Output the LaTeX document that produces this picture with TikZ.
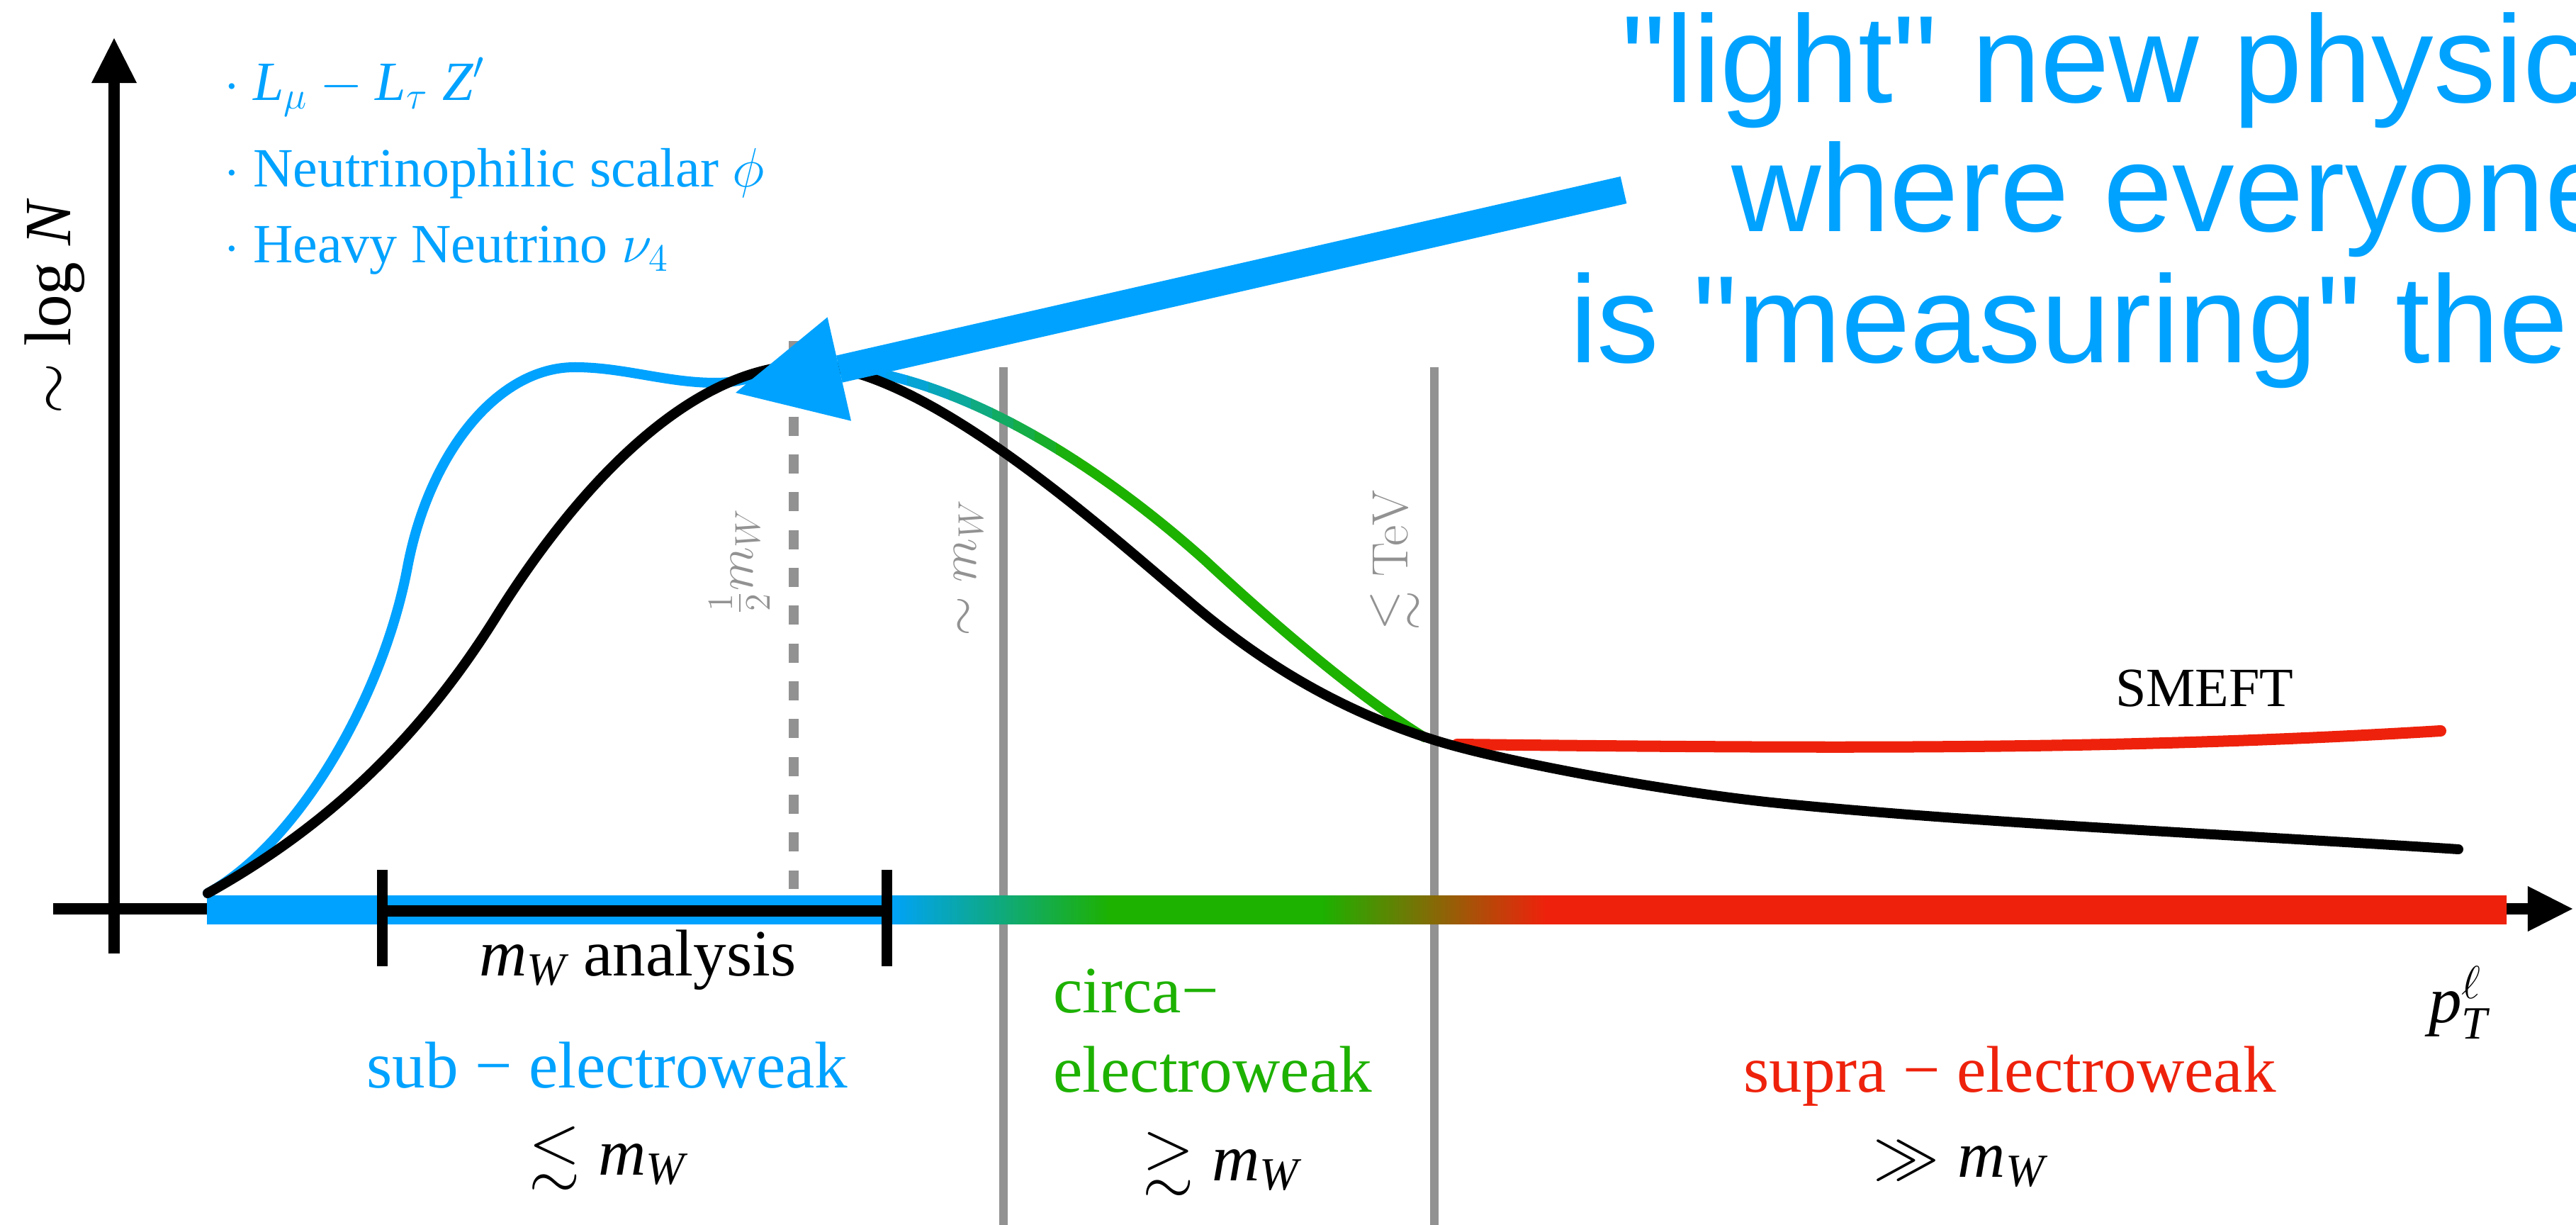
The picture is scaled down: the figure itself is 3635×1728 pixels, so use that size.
\RequirePackage{fix-cm}
\documentclass[tikz,border=0pt]{standalone}
\usepackage{amsmath,amssymb}
\usepackage[no-math]{fontspec}
\setmainfont{Liberation Serif}
\newfontfamily\helv{Liberation Sans}
\usetikzlibrary{arrows.meta}
\definecolor{cblue}{HTML}{00A2FF}
\definecolor{cgreen}{HTML}{1DB100}
\definecolor{cred}{HTML}{EE220C}
\definecolor{cgrey}{HTML}{929292}
\newcommand{\fA}{\fontsize{26.5}{30}\selectfont}
\newcommand{\fB}{\fontsize{22.2}{26}\selectfont}
\newcommand{\fC}{\fontsize{49.8}{56}\selectfont}
\newcommand{\fD}{\fontsize{20.5}{24}\selectfont}
\pgfdeclarehorizontalshading{barshade}{100bp}{color(0bp)=(cblue); color(39.75bp)=(cblue); color(44.65bp)=(cgreen); color(49.25bp)=(cgreen); color(54.1bp)=(cred); color(100bp)=(cred)}
\newcommand{\drawblue}[1]{\draw[curve, #1] (293,1260) .. controls (420,1190) and (540,985) .. (575,800) .. controls (605,641) and (701,518) .. (811,518) .. controls (880,518) and (940,540) .. (1010,540) .. controls (1060,540) and (1100,516) .. (1150,516) .. controls (1350,520) and (1560,665) .. (1700,790) .. controls (1800,883) and (1920,985) .. (2010,1040);}
\begin{document}
\begin{tikzpicture}[x=0.01cm, y=-0.01cm,
  every node/.style={inner sep=0pt, outer sep=0pt},
  curve/.style={line width=0.14cm, line cap=round, line join=round},
  axisline/.style={line width=0.16cm, -{Triangle[length=0.63cm, width=0.64cm, line width=0pt]}},
  greyline/.style={cgrey, line width=0.12cm},
  lab/.style={font=\fA},
  leg/.style={font=\fB, text=cblue, anchor=base west},
  big/.style={font=\fC\helv, text=cblue, anchor=base west},
  glab/.style={font=\fD, text=cgrey, rotate=90, anchor=base}]
\useasboundingbox (0,0) rectangle (3635,1728);
% axes
\coordinate (ybot) at (161,1345);
\coordinate (ytop) at (161,54);
\coordinate (xleft) at (75,1282);
\coordinate (xright) at (3630,1282);
\draw[axisline] (ybot) -- (ytop);
\draw[axisline] (xleft) -- (xright);
% grey region lines
\coordinate (g1t) at (1416,518); \coordinate (g1b) at (1416,1728);
\coordinate (g2t) at (2024,518); \coordinate (g2b) at (2024,1728);
\draw[greyline] (g1t) -- (g1b);
\draw[greyline] (g2t) -- (g2b);
\coordinate (dt) at (1120,481); \coordinate (db) at (1120,1254);
\draw[cgrey, line width=0.14cm, dash pattern=on 0.27cm off 0.263cm] (dt) -- (db);
% coloured bar
\shade[shading=barshade] (292,1263) rectangle (3537,1303);
% m_W analysis bar
\coordinate (ma) at (539,1285); \coordinate (mb) at (1251,1285);
\draw[line width=0.16cm] (ma) -- (mb);
\draw[line width=0.15cm] (539,1227) -- (539,1363);
\draw[line width=0.15cm] (1251,1227) -- (1251,1363);
% blue / coloured curve
\begin{scope}\clip (0,0) rectangle (1250,1728); \drawblue{cblue} \end{scope}
\foreach \i in {0,...,8}{
  \pgfmathsetmacro{\xa}{1250+30*\i}
  \pgfmathsetmacro{\xb}{1281+30*\i}
  \pgfmathsetmacro{\pc}{(\i+0.5)*100/9}
  \begin{scope}\clip (\xa,0) rectangle (\xb,1728); \drawblue{cgreen!\pc!cblue} \end{scope}
}
\begin{scope}\clip (1520,0) rectangle (3635,1728); \drawblue{cgreen} \end{scope}
% SMEFT curve
\draw[curve, cred, line width=0.16cm] (2056,1050) .. controls (2600,1056) and (3000,1058) .. (3444,1031);
% SM curve
\draw[curve, black] (293,1260) .. controls (473,1160) and (600,1030) .. (700,870) .. controls (810,694) and (970,515) .. (1140,515) .. controls (1300,515) and (1550,740) .. (1680,850) .. controls (1800,952) and (1911,1008) .. (2021,1043) .. controls (2121,1075) and (2360,1118) .. (2510,1133) .. controls (2800,1162) and (3169,1178) .. (3469,1198);
% big arrow
\coordinate (bstart) at (2291,268);
\coordinate (btip) at (1038,554);
\draw[cblue, line width=0.39cm, -{Triangle[length=1.5cm, width=1.5cm, line width=0pt]}] (bstart) -- (btip);
% texts
\node[rotate=90, anchor=base, font=\fA] (ylab) at (100,432) {$\sim$ log \textit{N}};
\node[leg] (l1) at (316,142) {$\cdot$ $\textit{L}_{\mu}-\textit{L}_{\tau}$ $\textit{Z}'$};
\node[leg] (l2) at (316,264) {$\cdot$ Neutrinophilic scalar $\phi$};
\node[leg] (l3) at (316,371) {$\cdot$ Heavy Neutrino $\nu_4$};
\node[big] (t1) at (2288,145) {"light" new physic};
\node[big] (t2) at (2443,327) {where everyone};
\node[big] (t3) at (2215,512) {is "measuring" the};
\node[glab] (half) at (1062,792) {$\frac{1}{2}m_W$};
\node[glab] (simw) at (1377,801) {$\sim m_W$};
\node[glab] (tev) at (1986,790) {$\lesssim \mathrm{TeV}$};
\node[lab, anchor=base] (mwa) at (900,1376) {$\textit{m}_{\textit{W}}$ analysis};
\node[lab, anchor=base, text=cblue] (sub) at (857,1534) {sub − electroweak};
\node[lab, anchor=base] (lt) at (857,1657) {$\lesssim \textit{m}_{\textit{W}}$};
\node[lab, anchor=base west, text=cgreen] (circa) at (1486,1428) {circa−};
\node[lab, anchor=base west, text=cgreen] (ew) at (1486,1540) {electroweak};
\node[lab, anchor=base] (gt) at (1723,1665) {$\gtrsim \textit{m}_{\textit{W}}$};
\node[lab, anchor=base, text=cred] (supra) at (2836,1540) {supra − electroweak};
\node[lab, anchor=base] (gg) at (2765,1660) {$\gg \textit{m}_{\textit{W}}$};
\node[lab, anchor=base west] (pt) at (3427,1442) {$\textit{p}_{\textit{T}}^{\ell}$};
\node[font=\fB, anchor=base west] (smeft) at (2985,997) {SMEFT};
\end{tikzpicture}
\end{document}
